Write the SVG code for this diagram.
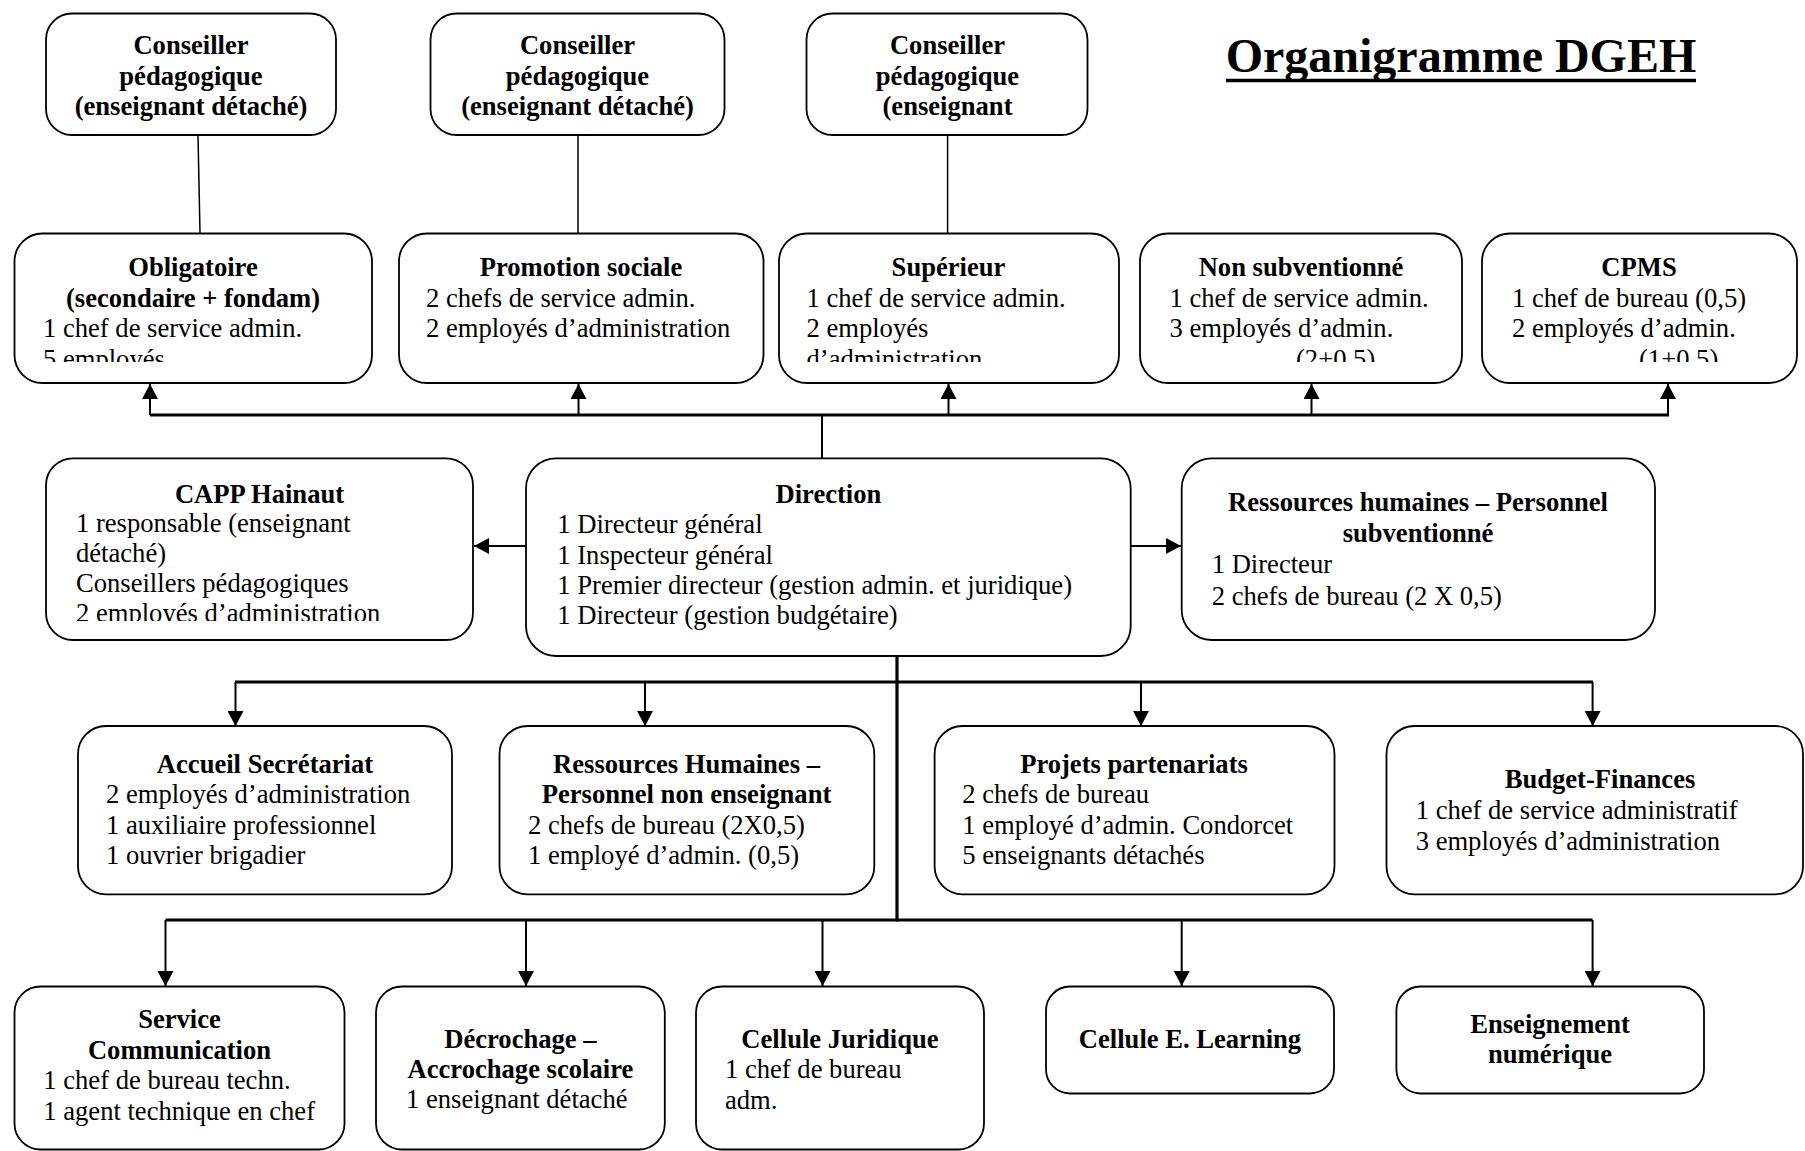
<svg xmlns="http://www.w3.org/2000/svg" width="1805" height="1151" viewBox="0 0 1805 1151">
<style>
.box{fill:#fff;stroke:#000;stroke-width:1.8}
.t{font-family:"Liberation Serif","Times New Roman",serif;font-size:26.6px;fill:#000}
.b{font-weight:bold}
.c{text-anchor:middle}
.ln{fill:none;stroke:#000;stroke-width:2}
.thin{fill:none;stroke:#000;stroke-width:1.5}
.bus{fill:none;stroke:#000;stroke-width:3.2}
</style>
<defs>
<marker id="ah" viewBox="0 0 15 16" refX="15" refY="8" markerWidth="15" markerHeight="16" markerUnits="userSpaceOnUse" orient="auto">
<path d="M0,0 L15,8 L0,16 Z" fill="#000"/>
</marker>
<clipPath id="clipR2"><rect x="0" y="0" width="1805" height="362"/></clipPath>
<clipPath id="clipCapp"><rect x="0" y="0" width="1805" height="621"/></clipPath>
</defs>

<text class="t b c" x="1461" y="72" style="font-size:48px">Organigramme DGEH</text>
<line x1="1226" y1="80.5" x2="1696" y2="80.5" stroke="#000" stroke-width="3.5"/>

<g id="connectors">
<line class="thin" x1="198" y1="135" x2="200" y2="233"/>
<line class="thin" x1="578" y1="135" x2="578" y2="233"/>
<line class="thin" x1="947.6" y1="135" x2="947.6" y2="233"/>
<polyline class="bus" points="150,415 1669,415"/>
<line class="ln" x1="150" y1="415" x2="150" y2="384" marker-end="url(#ah)"/>
<line class="ln" x1="578.5" y1="415" x2="578.5" y2="384" marker-end="url(#ah)"/>
<line class="ln" x1="948.5" y1="415" x2="948.5" y2="384" marker-end="url(#ah)"/>
<line class="ln" x1="1311.5" y1="415" x2="1311.5" y2="384" marker-end="url(#ah)"/>
<line class="ln" x1="1668" y1="415" x2="1668" y2="384" marker-end="url(#ah)"/>
<line class="ln" x1="822" y1="415" x2="822" y2="458"/>
<line class="ln" x1="526" y1="546" x2="474" y2="546" marker-end="url(#ah)"/>
<line class="ln" x1="1131" y1="546" x2="1181" y2="546" marker-end="url(#ah)"/>
<line class="bus" x1="897" y1="656" x2="897" y2="921.5"/>
<polyline class="bus" points="235,682 1593,682"/>
<line class="ln" x1="235.5" y1="682" x2="235.5" y2="726" marker-end="url(#ah)"/>
<line class="ln" x1="645" y1="682" x2="645" y2="726" marker-end="url(#ah)"/>
<line class="ln" x1="1141" y1="682" x2="1141" y2="726" marker-end="url(#ah)"/>
<line class="ln" x1="1592.6" y1="682" x2="1592.6" y2="726" marker-end="url(#ah)"/>
<polyline class="bus" points="165.5,920 1592.6,920"/>
<line class="ln" x1="165.5" y1="920" x2="165.5" y2="986" marker-end="url(#ah)"/>
<line class="ln" x1="526" y1="920" x2="526" y2="986" marker-end="url(#ah)"/>
<line class="ln" x1="822.5" y1="920" x2="822.5" y2="986" marker-end="url(#ah)"/>
<line class="ln" x1="1181.7" y1="920" x2="1181.7" y2="986" marker-end="url(#ah)"/>
<line class="ln" x1="1592.6" y1="920" x2="1592.6" y2="986" marker-end="url(#ah)"/>
</g>

<g id="conseiller1">
<rect class="box" x="46" y="13.5" width="290" height="121.5" rx="26"/>
<text class="t b c" x="191" y="54">Conseiller</text>
<text class="t b c" x="191" y="84.5">pédagogique</text>
<text class="t b c" x="191" y="115">(enseignant détaché)</text>
</g>
<g id="conseiller2">
<rect class="box" x="430.5" y="13.5" width="294" height="121.5" rx="26"/>
<text class="t b c" x="577.5" y="54">Conseiller</text>
<text class="t b c" x="577.5" y="84.5">pédagogique</text>
<text class="t b c" x="577.5" y="115">(enseignant détaché)</text>
</g>
<g id="conseiller3">
<rect class="box" x="806.5" y="13.5" width="281" height="121.5" rx="26"/>
<text class="t b c" x="947.5" y="54">Conseiller</text>
<text class="t b c" x="947.5" y="84.5">pédagogique</text>
<text class="t b c" x="947.5" y="115">(enseignant</text>
</g>

<g id="obligatoire">
<rect class="box" x="14.5" y="233.5" width="357.5" height="149.5" rx="28"/>
<g clip-path="url(#clipR2)">
<text class="t b c" x="193" y="276">Obligatoire</text>
<text class="t b c" x="193" y="306.5">(secondaire + fondam)</text>
<text class="t" x="43" y="337">1 chef de service admin.</text>
<text class="t" x="43" y="367.5">5 employés</text>
</g>
</g>
<g id="promotion">
<rect class="box" x="399" y="233.5" width="364.5" height="149.5" rx="28"/>
<text class="t b c" x="581" y="276">Promotion sociale</text>
<text class="t" x="426" y="306.5">2 chefs de service admin.</text>
<text class="t" x="426" y="337">2 employés d’administration</text>
</g>
<g id="superieur">
<rect class="box" x="779" y="233.5" width="340" height="149.5" rx="28"/>
<g clip-path="url(#clipR2)">
<text class="t b c" x="948.5" y="276">Supérieur</text>
<text class="t" x="806.5" y="306.5">1 chef de service admin.</text>
<text class="t" x="806.5" y="337">2 employés</text>
<text class="t" x="806.5" y="367.5">d’administration</text>
</g>
</g>
<g id="nonsubventionne">
<rect class="box" x="1140" y="233.5" width="322" height="149.5" rx="28"/>
<g clip-path="url(#clipR2)">
<text class="t b c" x="1301" y="276">Non subventionné</text>
<text class="t" x="1169.5" y="306.5">1 chef de service admin.</text>
<text class="t" x="1169.5" y="337">3 employés d’admin.</text>
<text class="t" x="1296" y="367.5">(2+0,5)</text>
</g>
</g>
<g id="cpms">
<rect class="box" x="1482" y="233.5" width="315" height="149.5" rx="28"/>
<g clip-path="url(#clipR2)">
<text class="t b c" x="1639" y="276">CPMS</text>
<text class="t" x="1512" y="306.5">1 chef de bureau (0,5)</text>
<text class="t" x="1512" y="337">2 employés d’admin.</text>
<text class="t" x="1639" y="367.5">(1+0,5)</text>
</g>
</g>

<g id="capp">
<rect class="box" x="46" y="458.3" width="427" height="181.7" rx="27"/>
<g clip-path="url(#clipCapp)">
<text class="t b c" x="259.5" y="502.7">CAPP Hainaut</text>
<text class="t" x="76" y="531.7">1 responsable (enseignant</text>
<text class="t" x="76" y="561.9">détaché)</text>
<text class="t" x="76" y="592.1">Conseillers pédagogiques</text>
<text class="t" x="76" y="622.3">2 employés d’administration</text>
</g>
</g>
<g id="direction">
<rect class="box" x="526" y="458.3" width="604.7" height="197.7" rx="30"/>
<text class="t b c" x="828.4" y="503.3">Direction</text>
<text class="t" x="557.3" y="533.3">1 Directeur général</text>
<text class="t" x="557.3" y="563.6">1 Inspecteur général</text>
<text class="t" x="557.3" y="593.9">1 Premier directeur (gestion admin. et juridique)</text>
<text class="t" x="557.3" y="624.3">1 Directeur (gestion budgétaire)</text>
</g>
<g id="rh-subventionne">
<rect class="box" x="1181.7" y="458.3" width="473.3" height="181.7" rx="30"/>
<text class="t b c" x="1418" y="510.7">Ressources humaines – Personnel</text>
<text class="t b c" x="1418" y="542.3">subventionné</text>
<text class="t" x="1211.7" y="572.9">1 Directeur</text>
<text class="t" x="1211.7" y="604.5">2 chefs de bureau (2 X 0,5)</text>
</g>

<g id="accueil">
<rect class="box" x="78" y="726" width="374" height="168.3" rx="28"/>
<text class="t b c" x="265" y="773">Accueil Secrétariat</text>
<text class="t" x="106" y="803.4">2 employés d’administration</text>
<text class="t" x="106" y="833.8">1 auxiliaire professionnel</text>
<text class="t" x="106" y="864.3">1 ouvrier brigadier</text>
</g>
<g id="rh-non-enseignant">
<rect class="box" x="499.5" y="726" width="374.8" height="168.3" rx="28"/>
<text class="t b c" x="686.5" y="773">Ressources Humaines –</text>
<text class="t b c" x="686.5" y="803.4">Personnel non enseignant</text>
<text class="t" x="528" y="833.8">2 chefs de bureau (2X0,5)</text>
<text class="t" x="528" y="864.3">1 employé d’admin. (0,5)</text>
</g>
<g id="projets">
<rect class="box" x="934.6" y="726" width="399.9" height="168.3" rx="28"/>
<text class="t b c" x="1134" y="773">Projets partenariats</text>
<text class="t" x="962.3" y="803.4">2 chefs de bureau</text>
<text class="t" x="962.3" y="833.8">1 employé d’admin. Condorcet</text>
<text class="t" x="962.3" y="864.3">5 enseignants détachés</text>
</g>
<g id="budget">
<rect class="box" x="1386.5" y="726" width="416.5" height="168.3" rx="28"/>
<text class="t b c" x="1600" y="788.3">Budget-Finances</text>
<text class="t" x="1415.7" y="818.5">1 chef de service administratif</text>
<text class="t" x="1415.7" y="849.5">3 employés d’administration</text>
</g>

<g id="communication">
<rect class="box" x="14.5" y="986.5" width="330" height="163" rx="26"/>
<text class="t b c" x="179.5" y="1028.3">Service</text>
<text class="t b c" x="179.5" y="1058.8">Communication</text>
<text class="t" x="43.3" y="1089.3">1 chef de bureau techn.</text>
<text class="t" x="43.3" y="1119.8">1 agent technique en chef</text>
</g>
<g id="decrochage">
<rect class="box" x="376" y="986.5" width="288.8" height="163" rx="26"/>
<text class="t b c" x="520.4" y="1048.3">Décrochage –</text>
<text class="t b c" x="520.4" y="1078.3">Accrochage scolaire</text>
<text class="t" x="406" y="1108.3">1 enseignant détaché</text>
</g>
<g id="juridique">
<rect class="box" x="696" y="986.5" width="288" height="163" rx="26"/>
<text class="t b c" x="840" y="1048.3">Cellule Juridique</text>
<text class="t" x="725" y="1078.3">1 chef de bureau</text>
<text class="t" x="725" y="1109.3">adm.</text>
</g>
<g id="elearning">
<rect class="box" x="1046" y="986.5" width="288" height="107" rx="24"/>
<text class="t b c" x="1190" y="1048.3">Cellule E. Learning</text>
</g>
<g id="numerique">
<rect class="box" x="1396.4" y="986.5" width="307.6" height="107" rx="24"/>
<text class="t b c" x="1550" y="1033.3">Enseignement</text>
<text class="t b c" x="1550" y="1063.3">numérique</text>
</g>
</svg>
